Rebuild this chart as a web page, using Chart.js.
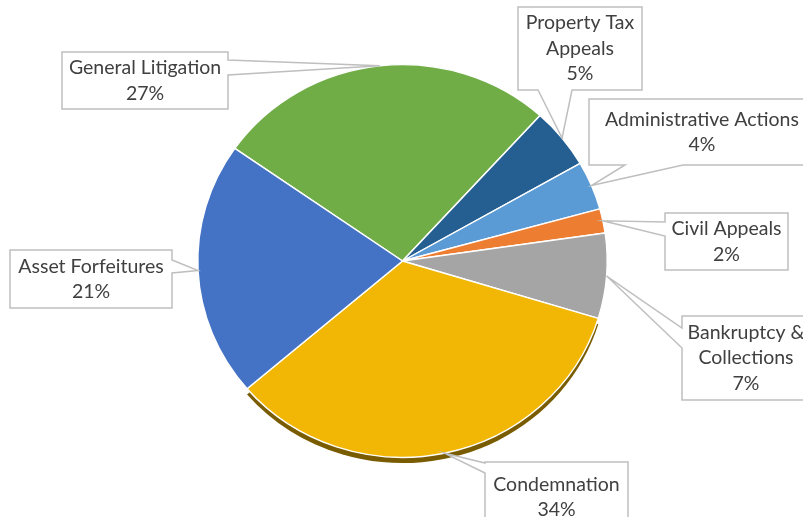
<!DOCTYPE html>
<html lang="en">
<head>
  <meta charset="UTF-8">
  <title>Cases by Type</title>
  <script src="https://cdn.jsdelivr.net/npm/chart.js"></script>
  <style>
    html, body {
      margin: 0;
      padding: 0;
      background: #fff;
    }
    #wrap {
      width: 803px;
      height: 517px;
    }
  </style>
</head>
<body>
  <div id="wrap"><canvas id="typeChart" width="803" height="517"></canvas></div>

  <script>
    const categories = [
      'General Litigation',
      ['Property Tax', 'Appeals'],
      'Administrative Actions',
      'Civil Appeals',
      ['Bankruptcy &', 'Collections'],
      'Condemnation',
      'Asset Forfeitures'
    ];
    const shares = [27, 5, 4, 2, 7, 34, 21];
    const sliceColors = ['#70AD47', '#255E91', '#5B9BD5', '#ED7D31', '#A5A5A5', '#F2B705', '#4472C4'];

    // pie is drawn slightly flattened, like the tilted office pie
    const squashY = 0.959;
    const FONT = '19.5px Lato, "Open Sans", sans-serif';

    // callout boxes: box rect, which edge the pointer leaves from, and the pointer base along that edge
    const callouts = [
      { x: 62,  y: 52,  w: 166, h: 57, side: 'right',  base: [60, 75] },
      { x: 518, y: 7,   w: 124, h: 83, side: 'bottom', base: [538, 572] },
      { x: 589, y: 99,  w: 226, h: 66, side: 'bottom', base: [625, 683] },
      { x: 665, y: 213, w: 123, h: 57, side: 'left',   base: [222, 236] },
      { x: 682, y: 316, w: 128, h: 84, side: 'left',   base: [328, 348] },
      { x: 485, y: 462, w: 143, h: 70, side: 'left',   base: [463, 473] },
      { x: 10,  y: 250, w: 162, h: 58, side: 'right',  base: [260, 273] }
    ];

    function squash(ctx, arc) {
      ctx.translate(arc.x, arc.y);
      ctx.scale(1, squashY);
      ctx.translate(-arc.x, -arc.y);
    }

    const pieLook = {
      id: 'pieLook',
      beforeDatasetsDraw(chart) {
        const ctx = chart.ctx;
        const arcs = chart.getDatasetMeta(0).data;
        ctx.save();
        squash(ctx, arcs[0]);
        // dark rim under the big front slice
        const a = arcs[5];
        ctx.save();
        ctx.translate(0, 6);
        ctx.beginPath();
        ctx.moveTo(a.x, a.y);
        ctx.arc(a.x, a.y, a.outerRadius, a.startAngle, a.endAngle);
        ctx.closePath();
        ctx.fillStyle = '#7A5C00';
        ctx.fill();
        ctx.restore();
      },
      afterDatasetsDraw(chart) {
        chart.ctx.restore();
      },
      afterDraw(chart) {
        const ctx = chart.ctx;
        const arcs = chart.getDatasetMeta(0).data;
        ctx.save();
        arcs.forEach((arc, i) => {
          const c = callouts[i];
          const mid = (arc.startAngle + arc.endAngle) / 2;
          const tx = arc.x + Math.cos(mid) * arc.outerRadius;
          const ty = arc.y + Math.sin(mid) * arc.outerRadius * squashY;

          const r = c.x + c.w, b = c.y + c.h;
          const pts = [[c.x, c.y]];
          if (c.side === 'right') {
            pts.push([r, c.y], [r, c.base[0]], [tx, ty], [r, c.base[1]], [r, b], [c.x, b]);
          } else if (c.side === 'bottom') {
            pts.push([r, c.y], [r, b], [c.base[1], b], [tx, ty], [c.base[0], b], [c.x, b]);
          } else {
            pts.push([r, c.y], [r, b], [c.x, b], [c.x, c.base[1]], [tx, ty], [c.x, c.base[0]]);
          }
          ctx.beginPath();
          pts.forEach((p, k) => k ? ctx.lineTo(p[0], p[1]) : ctx.moveTo(p[0], p[1]));
          ctx.closePath();
          ctx.fillStyle = '#fff';
          ctx.fill();
          ctx.lineWidth = 1.5;
          ctx.strokeStyle = '#BFBFBF';
          ctx.stroke();

          const label = chart.data.labels[i];
          const lines = (Array.isArray(label) ? label : [label]).concat(shares[i] + '%');
          ctx.font = FONT;
          ctx.fillStyle = '#404040';
          ctx.textAlign = 'center';
          ctx.textBaseline = 'middle';
          const lh = 25.5;
          const cx = c.x + c.w / 2;
          const top = c.y + c.h / 2 - (lines.length - 1) * lh / 2;
          lines.forEach((t, k) => ctx.fillText(t, cx, top + k * lh));
        });
        ctx.restore();
      }
    };

    new Chart(document.getElementById('typeChart'), {
      type: 'pie',
      data: {
        labels: categories,
        datasets: [{
          data: shares,
          backgroundColor: sliceColors,
          borderColor: '#fff',
          borderWidth: 1.5
        }]
      },
      options: {
        responsive: false,
        animation: false,
        rotation: -55,
        layout: { padding: { top: 55.5, bottom: 50.5, left: 2, right: 0 } },
        plugins: {
          legend: { display: false },
          tooltip: { enabled: false },
          title: { display: false }
        }
      },
      plugins: [pieLook]
    });
  </script>
</body>
</html>
